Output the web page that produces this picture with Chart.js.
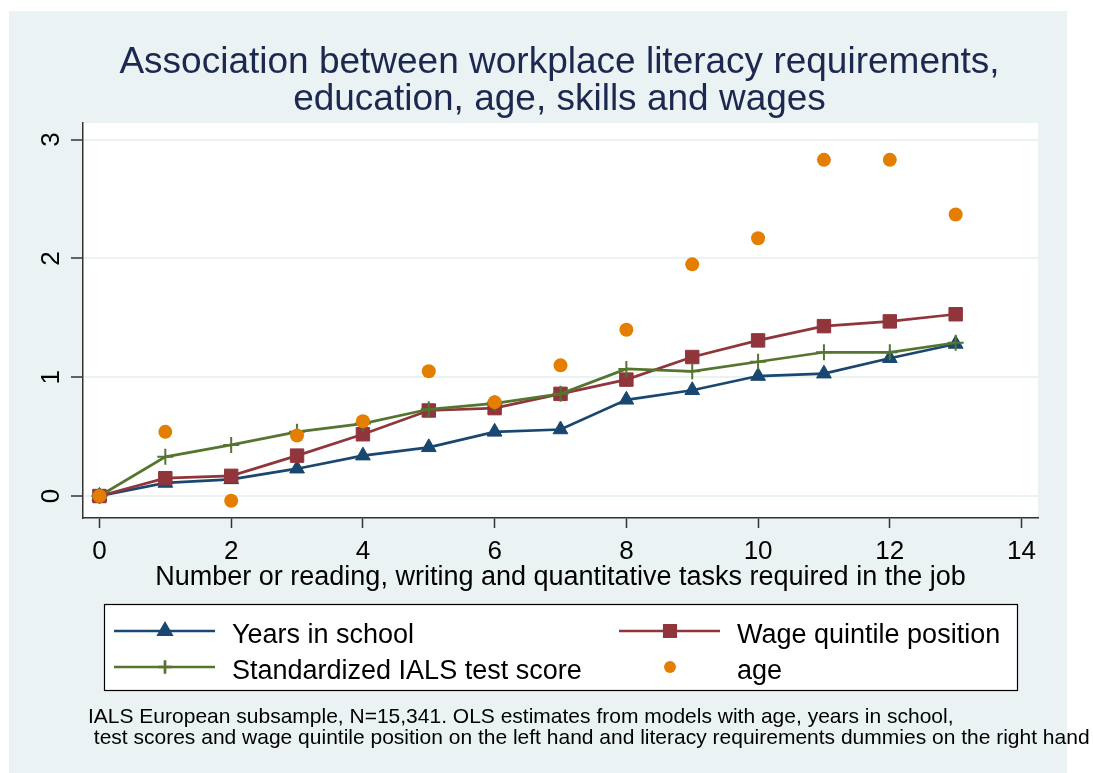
<!DOCTYPE html>
<html>
<head>
<meta charset="utf-8">
<script src="https://cdn.jsdelivr.net/npm/chart.js@4.4.1/dist/chart.umd.min.js"></script>
<style>
  html, body { margin: 0; padding: 0; background: #fff; }
  #wrap { width: 1093px; height: 773px; position: relative; }
</style>
</head>
<body>
<div id="wrap"><canvas id="literacyChart"></canvas></div>
<script>
// number of literacy tasks required in the job (x)
const tasks = [0, 1, 2, 3, 4, 5, 6, 7, 8, 9, 10, 11, 12, 13];
// coefficients
const yearsInSchool = [0, 0.11, 0.14, 0.23, 0.34, 0.41, 0.54, 0.56, 0.81, 0.89, 1.01, 1.03, 1.16, 1.28];
const wageQuintile = [0, 0.15, 0.17, 0.34, 0.52, 0.72, 0.74, 0.86, 0.98, 1.17, 1.31, 1.43, 1.47, 1.53];
const ialsScore = [0, 0.33, 0.43, 0.54, 0.61, 0.73, 0.78, 0.86, 1.07, 1.05, 1.13, 1.21, 1.21, 1.29];
const ageCoef = [0, 0.54, -0.04, 0.51, 0.63, 1.05, 0.79, 1.10, 1.40, 1.95, 2.17, 2.83, 2.83, 2.37];

const xTicks = [0, 2, 4, 6, 8, 10, 12, 14];
const yTicks = [0, 1, 2, 3];

const titleLines = ['Association between workplace literacy requirements,', 'education, age, skills and wages'];
const xTitle = 'Number or reading, writing and quantitative tasks required in the job';
const noteLines = ['IALS European subsample, N=15,341. OLS estimates from models with age, years in school,',
                   ' test scores and wage quintile position on the left hand and literacy requirements dummies on the right hand side'];

const FONT = '"Liberation Sans", Arial, sans-serif';
const toXY = ys => tasks.map((x, i) => ({ x: x, y: ys[i] }));

// background, titles, rotated y labels, boxed legend and note (Stata look)
const stataFrame = {
    id: 'stataFrame',
    beforeDraw(chart) {
        const { ctx, chartArea: a } = chart;
        ctx.save();
        ctx.fillStyle = '#ffffff';
        ctx.fillRect(0, 0, chart.width, chart.height);
        ctx.fillStyle = '#eaf2f3';
        ctx.fillRect(9, 11, 1058, 762);
        ctx.fillStyle = '#ffffff';
        ctx.fillRect(a.left, a.top, a.right - a.left, a.bottom - a.top);
        ctx.restore();
    },
    afterDraw(chart) {
        const { ctx, chartArea: a } = chart;
        const xs = chart.scales.x, ys = chart.scales.y;
        const cx = (a.left + a.right) / 2;
        ctx.save();
        // title
        ctx.fillStyle = '#1c2850';
        ctx.font = '37px ' + FONT;
        ctx.textAlign = 'center';
        ctx.textBaseline = 'alphabetic';
        ctx.fillText(titleLines[0], cx - 1, 73);
        ctx.fillText(titleLines[1], cx - 1, 110);

        // tick labels
        ctx.fillStyle = '#000';
        ctx.font = '26px ' + FONT;
        xTicks.forEach(v => ctx.fillText(String(v), xs.getPixelForValue(v), 559));
        yTicks.forEach(v => {
            ctx.save();
            ctx.translate(52, ys.getPixelForValue(v));
            ctx.rotate(-Math.PI / 2);
            ctx.textBaseline = 'middle';
            ctx.fillText(String(v), 0, 0);
            ctx.restore();
        });

        // x axis title
        ctx.font = '27px ' + FONT;
        ctx.fillText(xTitle, cx, 585);

        // legend box
        ctx.fillStyle = '#fff';
        ctx.fillRect(104, 604, 914, 87);
        ctx.strokeStyle = '#000';
        ctx.lineWidth = 1.2;
        ctx.strokeRect(104.5, 604.5, 913, 86);
        const slots = [[114, 631], [619, 631], [114, 667], [619, 667]];
        const legendOrder = [0, 1, 2, 3];
        ctx.font = '27px ' + FONT;
        ctx.textAlign = 'left';
        ctx.textBaseline = 'alphabetic';
        legendOrder.forEach((di, k) => {
            const ds = chart.data.datasets[di];
            const [lx, ly] = slots[k];
            if (ds.showLine) {
                ctx.strokeStyle = ds.borderColor;
                ctx.lineWidth = ds.borderWidth;
                ctx.beginPath();
                ctx.moveTo(lx, ly);
                ctx.lineTo(lx + 101, ly);
                ctx.stroke();
            }
            ctx.fillStyle = ds.pointBackgroundColor;
            ctx.strokeStyle = ds.pointBorderColor;
            Chart.helpers.drawPoint(ctx, {
                pointStyle: ds.pointStyle,
                radius: ds.pointRadius * 0.85,
                borderWidth: ds.pointBorderWidth,
                rotation: 0
            }, lx + 51, ly);
            ctx.fillStyle = '#000';
            ctx.fillText(ds.label, lx + 118, ly + 12);
        });

        // note
        ctx.font = '21px ' + FONT;
        ctx.fillText(noteLines[0], 88, 723);
        ctx.fillText(noteLines[1], 88, 744);
        ctx.restore();
    }
};

function initLiteracyChart() {
    const ctx = document.getElementById('literacyChart').getContext('2d');
    return new Chart(ctx, {
        type: 'scatter',
        data: {
            datasets: [
                { label: 'Years in school', data: toXY(yearsInSchool), showLine: true, order: 4,
                  borderColor: '#1a476f', borderWidth: 2.7, pointStyle: 'triangle', pointRadius: 8.5,
                  pointBackgroundColor: '#1a476f', pointBorderColor: '#1a476f', pointBorderWidth: 1 },
                { label: 'Wage quintile position', data: toXY(wageQuintile), showLine: true, order: 3,
                  borderColor: '#90353b', borderWidth: 2.7, pointStyle: 'rect', pointRadius: 9.5,
                  pointBackgroundColor: '#90353b', pointBorderColor: '#90353b', pointBorderWidth: 1 },
                { label: 'Standardized IALS test score', data: toXY(ialsScore), showLine: true, order: 2,
                  borderColor: '#55752f', borderWidth: 2.7, pointStyle: 'cross', pointRadius: 8,
                  pointBackgroundColor: '#55752f', pointBorderColor: '#55752f', pointBorderWidth: 2 },
                { label: 'age', data: toXY(ageCoef), showLine: false, order: 1,
                  borderColor: '#e37e00', borderWidth: 0, pointStyle: 'circle', pointRadius: 7,
                  pointBackgroundColor: '#e37e00', pointBorderColor: '#e37e00', pointBorderWidth: 0 }
            ]
        },
        options: {
            responsive: true, maintainAspectRatio: false, animation: false,
            devicePixelRatio: 1,
            layout: { padding: { top: 123, right: 55, left: 0, bottom: 0 } },
            scales: {
                x: {
                    type: 'linear', min: -0.25, max: 14.25,
                    afterBuildTicks: s => { s.ticks = xTicks.map(v => ({ value: v })); },
                    afterFit: s => { s.height = 255; },
                    ticks: { display: false },
                    grid: { drawOnChartArea: false, tickColor: '#333', tickLength: 10, tickWidth: 1.5 },
                    border: { color: '#333', width: 1.5 }
                },
                y: {
                    type: 'linear', min: -0.185, max: 3.14,
                    afterBuildTicks: s => { s.ticks = yTicks.map(v => ({ value: v })); },
                    afterFit: s => { s.width = 83; },
                    ticks: { display: false },
                    grid: { color: '#eaf2f3', lineWidth: 2, tickColor: '#333', tickLength: 12, tickWidth: 1.5 },
                    border: { color: '#333', width: 1.5 }
                }
            },
            plugins: { legend: { display: false }, title: { display: false }, tooltip: { enabled: false } }
        },
        plugins: [stataFrame]
    });
}

initLiteracyChart();
</script>
</body>
</html>
